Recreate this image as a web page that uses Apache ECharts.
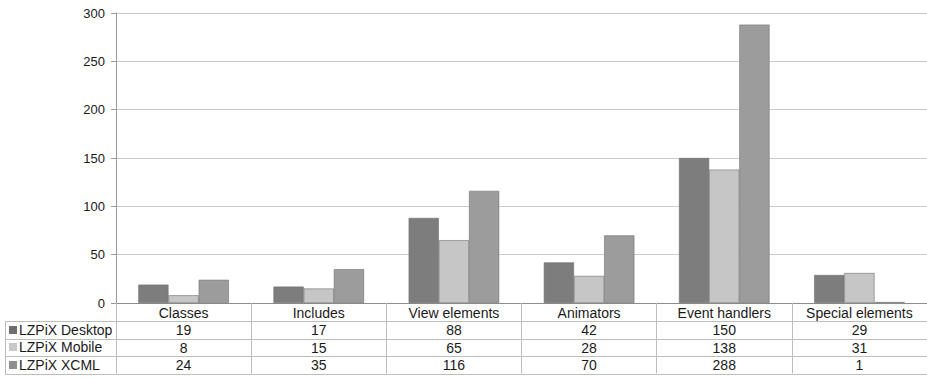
<!DOCTYPE html>
<html>
<head>
<meta charset="utf-8">
<style>
  html, body { margin: 0; padding: 0; background: #fff; }
  #chart { width: 927px; height: 379px; }
</style>
<script src="https://cdn.jsdelivr.net/npm/echarts@6/dist/echarts.min.js"></script>
</head>
<body>
<div id="chart"></div>
<script>
// Element counts per LZPiX variant
const categories = ['Classes', 'Includes', 'View elements', 'Animators', 'Event handlers', 'Special elements'];
const seriesNames = ['LZPiX Desktop', 'LZPiX Mobile', 'LZPiX XCML'];
const desktopValues = [19, 17, 88, 42, 150, 29];
const mobileValues = [8, 15, 65, 28, 138, 31];
const xcmlValues = [24, 35, 116, 70, 288, 1];
const yTicks = [0, 50, 100, 150, 200, 250, 300];

const seriesValues = [desktopValues, mobileValues, xcmlValues];
const barColors = ['#7d7d7d', '#c6c6c6', '#9c9c9c'];
const keyColors = ['#6e6e6e', '#c8c8c8', '#8f8f8f'];

const W = 927, H = 379;
const gridLeft = 116, gridTop = 13, gridBottom = 76;
const axisY = H - gridBottom;          // baseline of the value axis
const rowH = 17.5;                     // data-table row height
const tableLeft = 5;
const tableTop = axisY + rowH + 0.5;   // first series row begins below the header row
const tableBottom = tableTop + rowH * seriesNames.length;
const FONT = '"Liberation Sans", Arial, Helvetica, sans-serif';

const chart = echarts.init(document.getElementById('chart'), null, { renderer: 'svg' });

// Data table: horizontal rules, legend column border, key squares and row names
const graphics = [];
for (let i = 0; i <= seriesNames.length; i++) {
  const y = Math.round(tableTop + i * rowH) + 0.5;
  graphics.push({
    type: 'line', silent: true,
    shape: { x1: tableLeft, y1: y, x2: W, y2: y },
    style: { stroke: '#bdbdbd', lineWidth: 1 }
  });
}
graphics.push({
  type: 'line', silent: true,
  shape: { x1: tableLeft + 0.5, y1: Math.round(tableTop) + 0.5, x2: tableLeft + 0.5, y2: Math.round(tableBottom) + 0.5 },
  style: { stroke: '#bdbdbd', lineWidth: 1 }
});
seriesNames.forEach((name, i) => {
  const cy = tableTop + i * rowH + rowH / 2;
  graphics.push({
    type: 'rect', silent: true,
    shape: { x: 9, y: Math.round(cy - 4), width: 8, height: 8 },
    style: { fill: keyColors[i] }
  });
  graphics.push({
    type: 'text', silent: true,
    x: 19, y: cy,
    style: { text: name, font: '14px ' + FONT, fill: '#1a1a1a', verticalAlign: 'middle', align: 'left' }
  });
});

const option = {
  animation: false,
  backgroundColor: '#ffffff',
  grid: { left: gridLeft, right: 0, top: gridTop, bottom: gridBottom, containLabel: false },
  xAxis: {
    type: 'category',
    data: categories,
    axisLine: { show: true, lineStyle: { color: '#8c8c8c', width: 1 } },
    axisTick: {
      show: true, inside: false, length: tableBottom - axisY,
      lineStyle: { color: '#bdbdbd', width: 1 }
    },
    axisLabel: {
      interval: 0,
      margin: 1,
      color: '#1a1a1a',
      fontFamily: FONT,
      fontSize: 14,
      lineHeight: rowH,
      verticalAlign: 'top',
      formatter: (value, idx) => [value].concat(seriesValues.map(s => String(s[idx]))).join('\n')
    }
  },
  yAxis: {
    type: 'value',
    min: yTicks[0],
    max: yTicks[yTicks.length - 1],
    interval: yTicks[1] - yTicks[0],
    axisLine: { show: true, lineStyle: { color: '#9a9a9a', width: 1 } },
    axisTick: { show: true, length: 5, lineStyle: { color: '#9a9a9a' } },
    axisLabel: { margin: 11, color: '#1a1a1a', fontFamily: FONT, fontSize: 13 },
    splitLine: { show: true, lineStyle: { color: '#cccccc', width: 1 } }
  },
  series: seriesNames.map((name, i) => ({
    name: name,
    type: 'bar',
    data: seriesValues[i],
    barGap: '0%',
    barCategoryGap: '33%',
    itemStyle: { color: barColors[i], borderColor: '#6f6f6f', borderWidth: 0.6 }
  })),
  graphic: graphics
};

chart.setOption(option);
</script>
</body>
</html>
